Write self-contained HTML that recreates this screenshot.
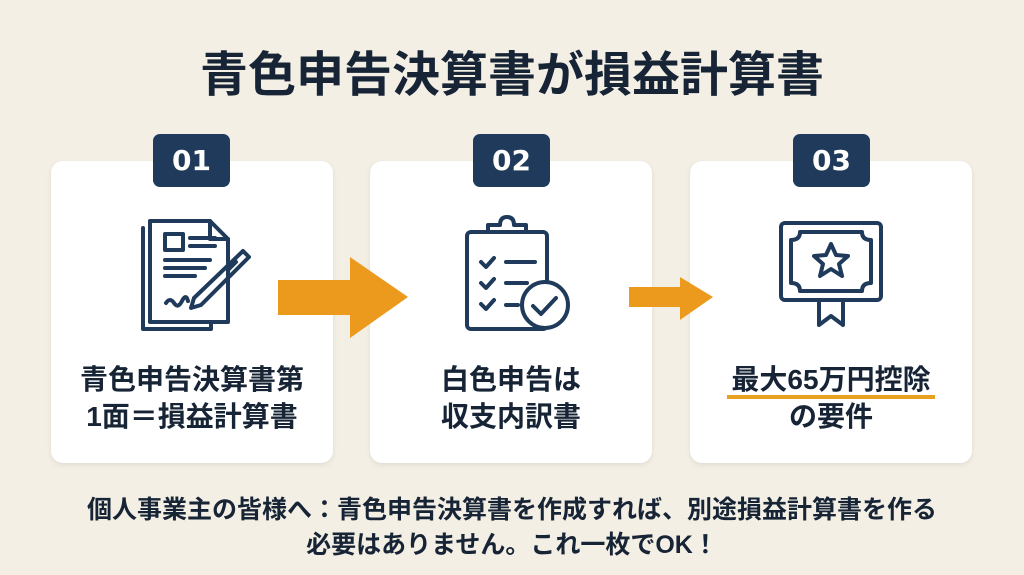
<!DOCTYPE html>
<html><head><meta charset="utf-8"><style>
body{margin:0;width:1024px;height:575px;background:#f3efe4;font-family:"Liberation Sans","Noto Sans CJK JP",sans-serif;position:relative;overflow:hidden;color:#172436}
.t{position:absolute;left:0;width:1024px;text-align:center;font-weight:bold}
.card{position:absolute;top:161px;width:282px;height:302px;background:#fff;border-radius:12px;box-shadow:0 2px 6px rgba(0,0,0,0.08)}
.badge{position:absolute;top:134px;width:77px;height:53px;background:#1f3a5a;border-radius:7px;color:#fff;font-weight:bold;font-size:28px;text-align:center;line-height:53px;font-family:"DejaVu Sans",sans-serif}
.ct{position:absolute;left:0;width:100%;text-align:center;font-weight:bold;font-size:28px;line-height:37px;top:200px}
svg{position:absolute}
</style></head><body>
<div class="t" style="top:46px;font-size:48px;line-height:60px">青色申告決算書が損益計算書</div>
<div class="card" style="left:51px"><div class="ct">青色申告決算書第<br>1面＝損益計算書</div></div>
<div class="card" style="left:370px"><div class="ct">白色申告は<br>収支内訳書</div></div>
<div class="card" style="left:690px"><div class="ct"><span style="border-bottom:4px solid #e8a020;padding:0 4px">最大65万円控除</span><br>の要件</div></div>
<div class="badge" style="left:153px">01</div>
<div class="badge" style="left:473px">02</div>
<div class="badge" style="left:793px">03</div>
<svg width="1024" height="575" style="left:0;top:0" fill="none" stroke="#1f3a5a" stroke-width="4" stroke-linejoin="round" stroke-linecap="round">
<polygon points="278,280 350,280 350,257 408,297 350,338 350,315 278,315" fill="#ec9a1e" stroke="none"/>
<polygon points="629,287 680,287 680,277 713,297 680,320 680,307 629,307" fill="#ec9a1e" stroke="none"/>
<path d="M143,228 V329 H211 V322"/>
<path d="M150,221 H210 L228,239 V322 H150 Z"/>
<path d="M210,221 V239 H228"/>
<rect x="165" y="234" width="18" height="16"/>
<path d="M190,238 H215 M190,246 H215 M165,260 H210 M165,268 H205 M165,276 H195"/>
<path d="M166,303 q4,-6 8,0 t8,-2 t6,0"/>
<path d="M243,251 L249,257 L201,305 L191,308 L194,298 Z"/>
<path d="M236,262 L228,270"/>
<rect x="467" y="232" width="80" height="97" rx="4"/>
<path d="M488,232 V225 H500 Q500,217 507,217 Q514,217 514,225 H526 V232 Z"/>
<path d="M481,262 l5,5 l8,-9 M481,283 l5,5 l8,-9 M481,304 l5,5 l8,-9"/>
<path d="M506,262 H535 M506,283 H527 M506,305 H518"/>
<circle cx="545" cy="305" r="23" fill="#fff"/>
<path d="M533,306 l8,8 l15,-16"/>
<rect x="781" y="223" width="100" height="77" rx="4"/>
<path d="M800,232 H862 q0,8 9,8 V283 q-9,0 -9,8 H800 q0,-8 -9,-8 V240 q9,0 9,-8 Z"/>
<path d="M831,244 l5,11 12,1 -9,8 3,12 -11,-7 -11,7 3,-12 -9,-8 12,-1 Z"/>
<path d="M819,302 V325 L831,316 L843,325 V302"/>
</svg>
<div class="t" style="top:493px;font-size:25px;line-height:35px">個人事業主の皆様へ：青色申告決算書を作成すれば、別途損益計算書を作る<br>必要はありません。これ一枚でOK！</div>
</body></html>
